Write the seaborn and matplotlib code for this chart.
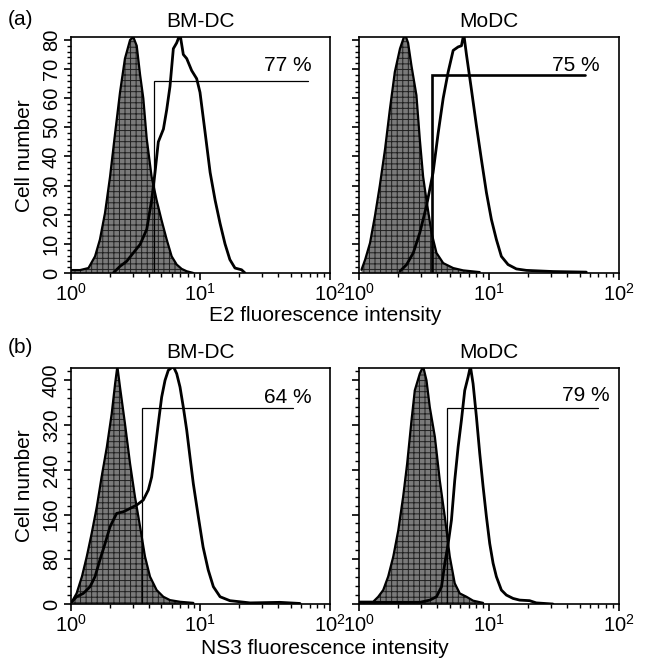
import numpy as np
import pandas as pd
import seaborn as sns
import matplotlib.pyplot as plt
from matplotlib.ticker import MultipleLocator, LogLocator

sns.set_style('ticks', {'axes.edgecolor': 'black', 'text.color': 'black',
                        'xtick.color': 'black', 'ytick.color': 'black',
                        'axes.labelcolor': 'black'})
plt.rcParams['font.family'] = ['Liberation Sans', 'DejaVu Sans']
plt.rcParams['mathtext.default'] = 'regular'
plt.rcParams['hatch.linewidth'] = 0.7

# (a) E2, BM-DC
a_bm_ctrl_x = [1.00, 1.18, 1.37, 1.54, 1.68, 1.84, 2.01, 2.20, 2.40, 2.62, 2.87, 3.04, 3.23, 3.43,
               3.63, 3.86, 4.21, 4.60, 5.03, 5.50, 6.01, 6.57, 7.18, 7.85, 8.83]
a_bm_ctrl_y = [1.0, 1.0, 1.7, 5.7, 11.5, 20.7, 33, 48, 62, 73.6, 80, 81, 78, 68,
               60, 46, 33, 25, 18, 11.5, 5.7, 2.9, 1.4, 0.6, 0]
a_bm_e2_x = [2.13, 2.40, 2.70, 3.04, 3.43, 3.86, 4.21, 4.47, 4.74, 5.19, 5.50, 5.83, 6.19, 6.57, 6.97,
             7.39, 7.85, 8.57, 9.37, 9.94, 10.9, 11.9, 13.0, 14.2, 15.5, 16.9, 18.5, 20.8, 22.1]
a_bm_e2_y = [0, 2.3, 4, 6.9, 9.8, 15, 25, 34.5, 45, 49.4, 56, 64, 77, 79, 82,
             75, 73.6, 69.5, 66.7, 62, 48, 34.5, 25, 17, 10, 4.6, 1.7, 1.1, 0]

# (a) E2, MoDC
a_mo_ctrl_x = [1.04, 1.11, 1.21, 1.32, 1.44, 1.58, 1.72, 1.88, 2.06, 2.25, 2.38, 2.53, 2.76, 2.93,
               3.11, 3.30, 3.61, 3.94, 4.44, 5.30, 6.32, 8.5]
a_mo_ctrl_y = [1.1, 4.6, 10.3, 19.5, 30, 42.5, 56, 69, 77, 82, 79, 71, 61, 46,
               33, 25, 13.8, 6.9, 3.4, 1.7, 0.9, 0.3]
a_mo_e2_x = [2.06, 2.32, 2.61, 2.93, 3.30, 3.71, 4.06, 4.44, 4.85, 5.30, 5.79, 6.14, 6.40, 6.71,
             7.33, 8.01, 8.75, 9.57, 10.45, 11.42, 12.48, 14.05, 16.29, 19.45, 31.2, 56.4]
a_mo_e2_y = [0.6, 2.9, 6.9, 13.8, 23, 34.5, 48, 60, 69, 76.4, 77.6, 78, 82, 75,
             63, 50.6, 39, 27.6, 18.4, 11.5, 5.7, 2.9, 1.4, 0.9, 0.5, 0.3]

# (b) NS3, BM-DC
b_bm_ctrl_x = [1.02, 1.11, 1.22, 1.33, 1.45, 1.59, 1.73, 1.90, 2.07, 2.20, 2.29, 2.40, 2.62, 2.87,
               3.13, 3.43, 3.74, 4.09, 4.60, 5.18, 5.83, 6.97, 8.83]
b_bm_ctrl_y = [4, 19, 49, 85, 126, 174, 227, 281, 340, 394, 425, 388, 323, 251,
               192, 138, 85, 49, 25, 13, 7, 4, 2]
b_bm_ns3_x = [1.02, 1.11, 1.25, 1.41, 1.54, 1.68, 1.84, 2.01, 2.26, 2.55, 2.87, 3.23, 3.63, 3.97,
              4.21, 4.47, 4.74, 5.03, 5.34, 5.66, 6.19, 6.57, 6.97, 7.39, 7.85, 8.32, 8.83, 9.65,
              10.5, 11.5, 12.6, 14.2, 16.9, 24.2, 41.1, 58.7]
b_bm_ns3_y = [4, 13, 19, 31, 49, 79, 108, 138, 162, 165, 171, 177, 186, 204,
              227, 275, 323, 370, 400, 418, 425, 412, 388, 352, 311, 263, 215, 156,
              102, 61, 31, 13, 6, 2, 3, 1]

# (b) NS3, MoDC
b_mo_ctrl_x = [1.01, 1.28, 1.40, 1.53, 1.67, 1.83, 2.00, 2.18, 2.34, 2.53, 2.68, 2.93, 3.11, 3.30,
               3.50, 3.83, 4.18, 4.57, 4.99, 5.45, 5.96, 6.71, 7.55, 9.02]
b_mo_ctrl_y = [4, 4, 13, 25, 49, 85, 132, 192, 251, 329, 382, 412, 425, 400,
               352, 299, 221, 156, 85, 37, 19, 13, 6, 2]
b_mo_ns3_x = [1.01, 2.93, 3.50, 3.94, 4.31, 4.57, 4.85, 5.14, 5.45, 5.79, 6.14, 6.51, 6.91, 7.20,
              7.55, 8.01, 8.50, 9.02, 9.57, 10.15, 10.77, 11.42, 12.48, 13.64, 15.36, 17.28, 20.6,
              23.2, 31.2]
b_mo_ns3_y = [3, 3, 7, 13, 31, 73, 108, 150, 221, 281, 329, 382, 406, 425,
              394, 335, 269, 210, 156, 108, 73, 49, 25, 16, 10, 7, 6,
              2, 0]

titles = ['BM-DC', 'MoDC']
# gate: x start, x end, height, label, label x, label baseline y, line width
gates = {
    (0, 0): (4.42, 68.0, 66.0, '77 %', 72.5, 69.3, 0.9),
    (0, 1): (3.67, 54.7, 68.0, '75 %', 71.4, 69.5, 1.9),
    (1, 0): (3.53, 52.1, 351, '64 %', 72.0, 360, 0.9),
    (1, 1): (4.71, 69.3, 351, '79 %', 85.3, 363, 0.9),
}

curves = {
    (0, 0): (a_bm_ctrl_x, a_bm_ctrl_y, a_bm_e2_x, a_bm_e2_y),
    (0, 1): (a_mo_ctrl_x, a_mo_ctrl_y, a_mo_e2_x, a_mo_e2_y),
    (1, 0): (b_bm_ctrl_x, b_bm_ctrl_y, b_bm_ns3_x, b_bm_ns3_y),
    (1, 1): (b_mo_ctrl_x, b_mo_ctrl_y, b_mo_ns3_x, b_mo_ns3_y),
}

fig = plt.figure(figsize=(6.53, 6.61), dpi=100)
lefts = [0.1083, 0.5502]
bottoms = [0.587, 0.0862]
w, h = 0.397, 0.357
fs = 15
tfs = 14.5

for r in range(2):
    for c in range(2):
        ax = fig.add_axes([lefts[c], bottoms[r], w, h])
        cx, cy, sx, sy = curves[(r, c)]
        ax.fill_between(cx, cy, 0, facecolor='#7a7a7a', edgecolor='#202020',
                        hatch='+++', linewidth=0)
        sns.lineplot(x=cx, y=cy, ax=ax, color='black', lw=1.6, sort=False, estimator=None)
        sns.lineplot(x=sx, y=sy, ax=ax, color='black', lw=2.0, sort=False, estimator=None)

        gx0, gx1, gy, glab, lx, ly, glw = gates[(r, c)]
        ax.plot([gx0, gx0, gx1], [0, gy, gy], color='black', lw=glw, solid_joinstyle='miter')
        ax.text(lx, ly, glab, ha='right', va='baseline', fontsize=fs, color='black')

        ax.set_xscale('log')
        ax.set_xlim(1, 100)
        ax.xaxis.set_minor_locator(LogLocator(base=10, subs=np.arange(2, 10)))
        if r == 0:
            ax.set_ylim(0, 81)
            ax.yaxis.set_major_locator(MultipleLocator(10))
            ax.yaxis.set_minor_locator(MultipleLocator(2))
        else:
            ax.set_ylim(0, 422)
            ax.set_yticks([0, 80, 160, 240, 320, 400])
            ax.yaxis.set_minor_locator(MultipleLocator(16))
        ax.tick_params(which='major', direction='out', length=5, width=1.2, labelsize=tfs, pad=2,
                       colors='black')
        ax.tick_params(which='minor', direction='out', length=3, width=1.0, colors='black')
        ax.tick_params(axis='y', labelrotation=90)
        for t in ax.get_yticklabels():
            t.set_va('center')
        if c == 1:
            ax.set_yticklabels([])
        for s in ax.spines.values():
            s.set_linewidth(1.2)
            s.set_color('black')
            s.set_visible(True)
        ax.set_xlabel('')
        ax.set_ylabel('')
        ax.set_title(titles[c], fontsize=fs, pad=7, color='black')

fig.text(0.4977, 0.523, 'E2 fluorescence intensity', ha='center', va='center', fontsize=fs, color='black')
fig.text(0.4977, 0.019, 'NS3 fluorescence intensity', ha='center', va='center', fontsize=fs, color='black')
fig.text(0.038, 0.765, 'Cell number', rotation=90, ha='center', va='center', fontsize=fs, color='black')
fig.text(0.038, 0.265, 'Cell number', rotation=90, ha='center', va='center', fontsize=fs, color='black')
fig.text(0.012, 0.971, '(a)', ha='left', va='center', fontsize=fs, color='black')
fig.text(0.012, 0.475, '(b)', ha='left', va='center', fontsize=fs, color='black')

fig.savefig('out.png', dpi=100)
